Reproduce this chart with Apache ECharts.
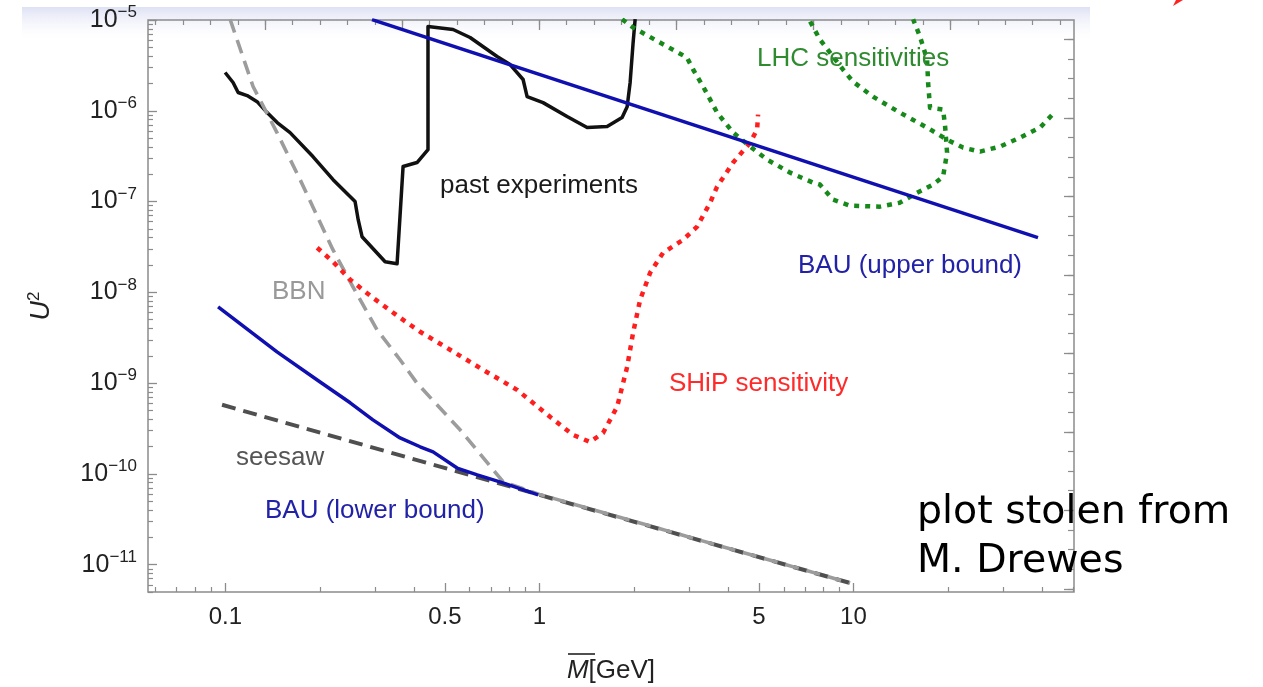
<!DOCTYPE html>
<html>
<head>
<meta charset="utf-8">
<script src="https://cdn.jsdelivr.net/npm/echarts@6/dist/echarts.min.js"></script>
<style>
html,body{margin:0;padding:0;background:#fff;}
#chart{width:1263px;height:687px;}
</style>
</head>
<body>
<div id="chart"></div>
<script>
// ---- tick values / labels ----
const massTickLabels = [0.1, 0.5, 1, 5, 10];
const massMinorTicks = [0.06,0.07,0.08,0.09,0.2,0.3,0.4,0.6,0.7,0.8,0.9,2,3,4,6,7,8,9,20,30,40,50];
const u2TickLabels = [1e-11,1e-10,1e-9,1e-8,1e-7,1e-6,1e-5];
const u2MinorTicks = [];
for (let e = -12; e <= -6; e++) for (let k = 2; k <= 9; k++) { const v = k * Math.pow(10, e); if (v >= 5e-12 && v < 1e-5) u2MinorTicks.push(v); }
const topMinorTicks = []; for (let i = -14; i <= 19; i++) topMinorTicks.push(i);
const topMajorTicks = [-10, -5, 0, 5, 10, 15];
const rightMinorTicks = []; for (let i = 0; i <= 28; i++) rightMinorTicks.push(i);
const rightMajorTicks = [0, 4, 8, 12, 16, 20, 24, 28];

// ---- series data: [M (GeV), U^2] ----
const pastExperiments = [[0.0998,2.64e-6],[0.1058,2.05e-6],[0.1098,1.59e-6],[0.1173,1.47e-6],[0.1262,1.26e-6],[0.1358,9.55e-7],[0.1462,7.41e-7],[0.1607,5.75e-7],[0.190,3.13e-7],[0.2203,1.74e-7],[0.2588,1.0e-7],[0.2648,6.31e-8],[0.2724,4.10e-8],[0.3226,2.17e-8],[0.3522,2.07e-8],[0.368,2.43e-7],[0.4077,2.69e-7],[0.4418,3.73e-7],[0.4418,8.48e-6],[0.531,7.86e-6],[0.6016,6.41e-6],[0.7331,3.96e-6],[0.8067,3.23e-6],[0.8873,2.21e-6],[0.9138,1.43e-6],[1.027,1.23e-6],[1.225,8.63e-7],[1.419,6.53e-7],[1.643,6.70e-7],[1.834,8.41e-7],[1.903,1.11e-6],[1.945,2.05e-6],[1.988,5.65e-6],[2.018,1.02e-5]];
const bbn = [[0.1035,1.02e-5],[0.1225,1.85e-6],[0.146,5.75e-7],[0.173,1.74e-7],[0.220,2.95e-8],[0.2548,1.15e-8],[0.304,3.87e-9],[0.360,1.81e-9],[0.4075,1.0e-9],[0.559,3.06e-10],[0.766,8.2e-11],[1.0,5.95e-11],[9.76,6.28e-12]];
const seesaw = [[0.0976,5.77e-10],[9.76,6.28e-12]];
const bauUpper = [[0.293,1.01e-5],[38.7,4.0e-8]];
const bauLower = [[0.0948,6.93e-9],[0.146,2.21e-9],[0.2003,1.03e-9],[0.2497,6.07e-10],[0.295,3.94e-10],[0.360,2.49e-10],[0.417,1.99e-10],[0.4585,1.75e-10],[0.547,1.16e-10],[0.634,9.75e-11],[0.766,7.96e-11],[0.991,5.87e-11]];
const shipSensitivity = [[0.196,3.10e-8],[0.2203,2.17e-8],[0.2497,1.38e-8],[0.295,8.71e-9],[0.360,5.25e-9],[0.417,3.68e-9],[0.5195,2.33e-9],[0.662,1.40e-9],[0.849,8.43e-10],[1.081,4.25e-10],[1.28,2.69e-10],[1.449,2.25e-10],[1.595,2.83e-10],[1.768,5.48e-10],[1.903,1.51e-9],[1.988,3.59e-9],[2.093,8.28e-9],[2.252,1.64e-8],[2.477,2.73e-8],[2.869,3.80e-8],[3.179,5.29e-8],[3.497,9.72e-8],[3.681,1.46e-7],[4.14,2.69e-7],[4.69,4.46e-7],[4.935,6.21e-7],[4.97,9.08e-7]];
const lhcA = [[1.834,1.02e-5],[1.988,8.27e-6],[2.551,5.10e-6],[2.951,3.86e-6],[3.087,2.85e-6],[3.322,1.85e-6],[3.681,9.55e-7],[4.14,5.75e-7],[4.69,4.03e-7],[5.31,2.90e-7],[6.29,2.08e-7],[7.43,1.62e-7],[7.82,1.54e-7],[8.61,1.05e-7],[9.75,9.02e-8],[12.15,8.79e-8],[14.06,9.72e-8],[15.94,1.25e-7],[17.93,1.54e-7],[19.3,1.88e-7],[19.87,3.46e-7],[19.59,6.70e-7],[19.3,1.03e-6],[17.54,1.08e-6],[17.29,2.05e-6],[17.16,3.67e-6],[16.29,6.58e-6],[15.49,1.02e-5]];
const lhcB = [[7.28,9.63e-6],[7.82,6.10e-6],[9.26,2.85e-6],[9.96,2.10e-6],[11.54,1.43e-6],[14.06,9.55e-7],[17.16,6.53e-7],[19.87,4.81e-7],[22.34,3.93e-7],[25.3,3.55e-7],[29.28,4.03e-7],[33.9,5.06e-7],[39.3,6.53e-7],[43.9,9.80e-7]];

const FONT = 'Liberation Sans';
const frameColor = '#8c8c8c';

const chart = echarts.init(document.getElementById('chart'), null, {renderer: 'canvas'});

const noLine = {show: false, onZero: false};
const common = {splitLine: {show: false}, axisLine: noLine};

function lineSeries(name, data, color, width, type, z) {
  return {type: 'line', name, data, showSymbol: false, symbol: 'none', silent: true, animation: false, z: z,
    clip: true, lineStyle: {color, width, type, cap: 'butt', join: 'round'}};
}

const option = {
  animation: false,
  backgroundColor: '#ffffff',
  grid: {left: 148, right: 189, top: 20, bottom: 95, show: true, borderColor: frameColor, borderWidth: 1.5, containLabel: false, outerBoundsMode: 'none'},
  xAxis: [
    Object.assign({}, common, {type: 'log', logBase: 10, min: 0.0567, max: 50.4, position: 'bottom',
      axisTick: {show: true, inside: true, length: 9, customValues: massTickLabels, lineStyle: {color: frameColor, width: 1.3}},
      axisLabel: {show: true, customValues: massTickLabels, margin: 13, color: '#222', fontFamily: FONT, fontSize: 24,
        formatter: v => String(parseFloat(Number(v).toPrecision(3)))},
      name: '{m|M}[GeV]', nameLocation: 'middle', nameGap: 66,
      nameTextStyle: {color: '#222', fontFamily: FONT, fontSize: 26, rich: {m: {fontStyle: 'italic', fontFamily: FONT, fontSize: 26, color: '#222'}}}
    }),
    Object.assign({}, common, {type: 'log', logBase: 10, min: 0.0567, max: 50.4, position: 'bottom',
      axisTick: {show: true, inside: true, length: 5, customValues: massMinorTicks, lineStyle: {color: frameColor, width: 1.2}},
      axisLabel: {show: false}}),
    Object.assign({}, common, {type: 'value', min: -14.28, max: 19.51, position: 'top',
      axisTick: {show: true, inside: true, length: 5, customValues: topMinorTicks, lineStyle: {color: frameColor, width: 1.2}},
      axisLabel: {show: false}}),
    Object.assign({}, common, {type: 'value', min: -14.28, max: 19.51, position: 'top',
      axisTick: {show: true, inside: true, length: 10, customValues: topMajorTicks, lineStyle: {color: frameColor, width: 1.3}},
      axisLabel: {show: false}})
  ],
  yAxis: [
    Object.assign({}, common, {type: 'log', logBase: 10, min: 5e-12, max: 1e-5, position: 'left',
      axisTick: {show: true, inside: true, length: 9, customValues: u2TickLabels, lineStyle: {color: frameColor, width: 1.3}},
      axisLabel: {show: true, customValues: u2TickLabels, margin: 11,
        formatter: v => { const e = Math.round(Math.log10(v)); return '{b|10}{s|\u2212' + (-e) + '}'; },
        rich: {b: {fontFamily: FONT, fontSize: 25, color: '#222', lineHeight: 32},
               s: {fontFamily: FONT, fontSize: 17, color: '#222', lineHeight: 20, verticalAlign: 'top'}}},
      name: '{u|U}{s|2}', nameLocation: 'middle', nameGap: 92, nameRotate: 90,
      nameTextStyle: {color: '#222', rich: {u: {fontStyle: 'italic', fontFamily: FONT, fontSize: 27, color: '#222', lineHeight: 30},
        s: {fontFamily: FONT, fontSize: 17, color: '#222', lineHeight: 18, verticalAlign: 'top'}}}
    }),
    Object.assign({}, common, {type: 'log', logBase: 10, min: 5e-12, max: 1e-5, position: 'left',
      axisTick: {show: true, inside: true, length: 5, customValues: u2MinorTicks, lineStyle: {color: frameColor, width: 1.2}},
      axisLabel: {show: false}}),
    Object.assign({}, common, {type: 'value', min: -0.163, max: 28.99, position: 'right',
      axisTick: {show: true, inside: true, length: 6, customValues: rightMinorTicks, lineStyle: {color: frameColor, width: 1.2}},
      axisLabel: {show: false}}),
    Object.assign({}, common, {type: 'value', min: -0.163, max: 28.99, position: 'right',
      axisTick: {show: true, inside: true, length: 10, customValues: rightMajorTicks, lineStyle: {color: frameColor, width: 1.3}},
      axisLabel: {show: false}})
  ],
  series: [
    lineSeries('past experiments', pastExperiments, '#111111', 3.5, 'solid', 3),
    lineSeries('seesaw', seesaw, '#4f4f4f', 4, [14, 8], 4),
    lineSeries('BBN', bbn, '#9c9c9c', 3.6, [14, 8], 5),
    lineSeries('SHiP sensitivity', shipSensitivity, '#ff1e1e', 4.5, [5, 6], 6),
    lineSeries('LHC sensitivities A', lhcA, '#16891a', 4.5, [5, 6], 6),
    lineSeries('LHC sensitivities B', lhcB, '#16891a', 4.5, [5, 6], 6),
    lineSeries('BAU (upper bound)', bauUpper, '#1010b0', 3.5, 'solid', 7),
    lineSeries('BAU (lower bound)', bauLower, '#1010b0', 3.5, 'solid', 7)
  ],
  graphic: [
    {type: 'rect', z: -10, silent: true, shape: {x: 22, y: 7, width: 1068, height: 36},
      style: {fill: {type: 'linear', x: 0, y: 0, x2: 0, y2: 1, colorStops: [{offset: 0, color: 'rgba(222,225,244,1)'}, {offset: 1, color: 'rgba(255,255,255,0)'}]}}},
    {type: 'polygon', z: 10, silent: true, shape: {points: [[1173, 6], [1176, 0], [1183, 0]]}, style: {fill: '#ff2020'}},
    {type: 'line', z: 10, silent: true, shape: {x1: 568, y1: 654, x2: 595, y2: 654}, style: {stroke: '#222', lineWidth: 1.6}},
    {type: 'text', z: 10, x: 440, y: 186, style: {text: 'past experiments', fill: '#1a1a1a', font: '26px "Liberation Sans"', textAlign: 'left', textVerticalAlign: 'middle'}},
    {type: 'text', z: 10, x: 757, y: 59, style: {text: 'LHC sensitivities', fill: '#2f8b2f', font: '26px "Liberation Sans"', textAlign: 'left', textVerticalAlign: 'middle'}},
    {type: 'text', z: 10, x: 798, y: 266, style: {text: 'BAU (upper bound)', fill: '#2222a8', font: '26px "Liberation Sans"', textAlign: 'left', textVerticalAlign: 'middle'}},
    {type: 'text', z: 10, x: 669, y: 384, style: {text: 'SHiP sensitivity', fill: '#ff2a2a', font: '26px "Liberation Sans"', textAlign: 'left', textVerticalAlign: 'middle'}},
    {type: 'text', z: 10, x: 272, y: 292, style: {text: 'BBN', fill: '#999999', font: '26px "Liberation Sans"', textAlign: 'left', textVerticalAlign: 'middle'}},
    {type: 'text', z: 10, x: 236, y: 458, style: {text: 'seesaw', fill: '#555555', font: '26px "Liberation Sans"', textAlign: 'left', textVerticalAlign: 'middle'}},
    {type: 'text', z: 10, x: 265, y: 511, style: {text: 'BAU (lower bound)', fill: '#2222a8', font: '26px "Liberation Sans"', textAlign: 'left', textVerticalAlign: 'middle'}},
    {type: 'text', z: 10, x: 917, y: 513, style: {text: 'plot stolen from', fill: '#000', font: '39.5px "DejaVu Sans"', textAlign: 'left', textVerticalAlign: 'middle'}},
    {type: 'text', z: 10, x: 917, y: 562, style: {text: 'M. Drewes', fill: '#000', font: '39.5px "DejaVu Sans"', textAlign: 'left', textVerticalAlign: 'middle'}}
  ]
};
chart.setOption(option);
</script>
</body>
</html>
